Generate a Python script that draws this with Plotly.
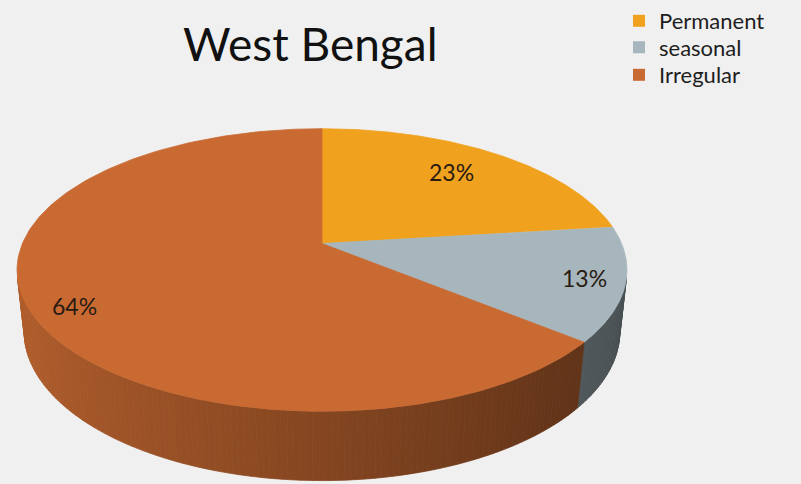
import numpy as np
import plotly.graph_objects as go

# ---- data ----
categories = ["Permanent", "seasonal", "Irregular"]
values = [23, 13, 64]
pct_labels = ["23%", "13%", "64%"]
title_text = "West Bengal"

# ---- style ----
top_colors = ["#f0a21f", "#a6b6bc", "#c96a32"]
label_radius = [0.72, 0.87, 0.85]
label_dy = [-5, 0, 10]
legend_rows_px = [14, 41, 69]
BG = "#f0f0f0"
FONT = "Lato"

# 3D perspective projection of the pie (unit radius disc, thickness H)
F, D, PHI, H = 1420.0, 4.74, np.radians(27.5), 0.236
CX, CY = 322.0, 240.0
S, C = np.sin(PHI), np.cos(PHI)
W, HT = 801, 484


def proj(X, Y, Z):
    X = np.asarray(X, float); Y = np.asarray(Y, float); Z = np.asarray(Z, float)
    ry = Y - D * S
    rz = Z + D * C
    depth = -ry * S + rz * C
    up = ry * C + rz * S
    return CX + F * X / depth, CY - F * up / depth


def hex2rgb(h):
    h = h.lstrip("#")
    return [int(h[i:i + 2], 16) for i in (0, 2, 4)]


def shade(h, f):
    r, g, b = hex2rgb(h)
    return "rgb(%d,%d,%d)" % (r * f, g * f, b * f)


fig = go.Figure()

# sector angle boundaries (degrees, starting at 12 o'clock, clockwise)
total = float(sum(values))
bounds = [90.0]
for v in values:
    bounds.append(bounds[-1] - 360.0 * v / total)

# visible side range: sin t < -1/(D cos phi)
lim = np.degrees(np.arcsin(1.0 / (D * C)))
vis_lo, vis_hi = -180.0 + lim, -lim

# --- side walls (drawn first) ---
for i, cat in enumerate(categories):
    lo, hi = bounds[i + 1], bounds[i]
    segs = []
    for shift in (-360, 0, 360):
        l2, h2 = max(lo + shift, vis_lo), min(hi + shift, vis_hi)
        if h2 > l2:
            segs.append((l2, h2))
    for l2, h2 in segs:
        n = max(2, int(np.ceil((h2 - l2) / 1.0)))
        edges = np.linspace(l2, h2, n + 1)
        for k in range(n):
            ta, tb = np.radians(edges[k]), np.radians(edges[k + 1])
            tm = 0.5 * (ta + tb)
            f = 0.66 - 0.23 * np.cos(tm)
            ts = np.array([ta, tb, tb, ta, ta])
            ys = np.array([0, 0, -H, -H, 0])
            px, py = proj(np.cos(ts), ys, np.sin(ts))
            col = shade(top_colors[i], f)
            fig.add_trace(go.Scatter(x=px, y=py, mode="lines", fill="toself",
                                     fillcolor=col, line=dict(color=col, width=0.8),
                                     hoverinfo="skip", showlegend=False))

# --- top faces ---
for i, cat in enumerate(categories):
    a0, a1 = bounds[i], bounds[i + 1]
    ts = np.radians(np.linspace(a0, a1, 200))
    X = np.concatenate([[0], np.cos(ts), [0]])
    Z = np.concatenate([[0], np.sin(ts), [0]])
    px, py = proj(X, np.zeros_like(X), Z)
    fig.add_trace(go.Scatter(x=px, y=py, mode="lines", fill="toself",
                             fillcolor=top_colors[i],
                             line=dict(color=top_colors[i], width=0.8),
                             hoverinfo="skip", showlegend=False))

# --- percentage labels ---
for i, lab in enumerate(pct_labels):
    am = np.radians(0.5 * (bounds[i] + bounds[i + 1]))
    r = label_radius[i]
    lx, ly = proj(r * np.cos(am), 0.0, r * np.sin(am))
    fig.add_annotation(x=float(lx), y=float(ly) + label_dy[i], text=lab, showarrow=False,
                       xref="x", yref="y",
                       font=dict(family=FONT, size=23, color="#2a1b12"))

# --- legend entries (one legend per row for tight spacing) ---
legend_layout = {}
for i, cat in enumerate(categories):
    key = "legend" if i == 0 else "legend%d" % (i + 1)
    fig.add_trace(go.Scatter(x=[None], y=[None], mode="markers", name=cat,
                             legend=key,
                             marker=dict(symbol="square", size=12, color=top_colors[i])))
    legend_layout[key] = dict(x=619 / W, y=1 - legend_rows_px[i] / HT,
                              xanchor="left", yanchor="middle",
                              font=dict(family=FONT, size=22, color="#1e1e1e"),
                              bgcolor="rgba(0,0,0,0)", itemwidth=30)

fig.add_annotation(x=310, y=37, xref="x", yref="y", text=title_text, showarrow=False,
                   font=dict(family=FONT, size=46, color="#111111"))

fig.update_layout(
    width=W, height=HT,
    margin=dict(l=0, r=0, t=0, b=0),
    paper_bgcolor=BG, plot_bgcolor=BG,
    xaxis=dict(range=[0, W], visible=False, fixedrange=True),
    yaxis=dict(range=[HT, 0], visible=False, fixedrange=True),
    showlegend=True,
    **legend_layout,
)

fig.write_html("out.html")
